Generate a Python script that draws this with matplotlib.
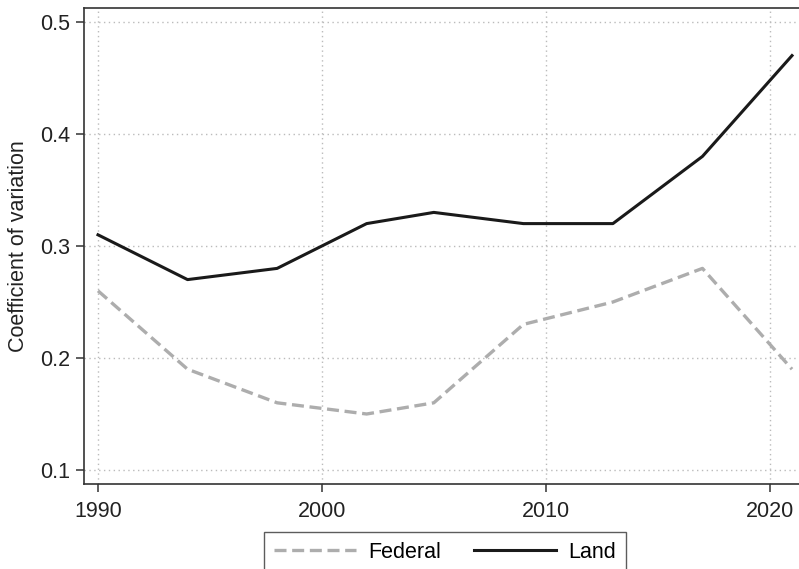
import numpy as np
import matplotlib.pyplot as plt

plt.rcParams['font.family'] = ['Liberation Sans', 'DejaVu Sans']

years = [1990, 1994, 1998, 2002, 2005, 2009, 2013, 2017, 2021]
federal = [0.26, 0.19, 0.16, 0.15, 0.16, 0.23, 0.25, 0.28, 0.19]
land = [0.31, 0.27, 0.28, 0.32, 0.33, 0.32, 0.32, 0.38, 0.47]
xticks = [1990, 2000, 2010, 2020]
yticks = [0.1, 0.2, 0.3, 0.4, 0.5]

W, H = 799, 569
fig = plt.figure(figsize=(W / 100, H / 100), dpi=100)
# plot region runs a little past the right edge of the canvas
ax = fig.add_axes([84 / W, (H - 484) / H, (806 - 84) / W, (484 - 8) / H])

ax.plot(years, federal, color='#adadad', lw=2.4, dashes=(3.6, 1.7), label='Federal')
ax.plot(years, land, color='#1a1a1a', lw=2.2, label='Land')

ax.set_xlim(1989.375, 2021.625)
ax.set_ylim(0.0875, 0.5125)
ax.set_xticks(xticks)
ax.set_yticks(yticks)
ax.set_yticklabels(['%.1f' % v for v in yticks])
ax.grid(True, color='#bbbbbb', ls=(0, (1, 2.5)), lw=1.0)
ax.set_axisbelow(True)

for s in ax.spines.values():
    s.set_color('#333333')
    s.set_linewidth(1.2)
ax.tick_params(axis='both', length=6, width=1.1, color='#333333',
               labelsize=15.5, labelcolor='#222222')
ax.tick_params(axis='x', pad=6)
ax.tick_params(axis='y', pad=4)
ax.set_ylabel('Coefficient of variation', fontsize=15.5, color='#222222', labelpad=8)

leg = ax.legend(loc='upper center', bbox_to_anchor=(0.5, (484 - 532) / 476),
                ncol=2, fontsize=15.5, frameon=True, fancybox=False,
                handlelength=3.8, handletextpad=0.6, columnspacing=1.5,
                borderpad=0.45, borderaxespad=0)
leg.get_frame().set_edgecolor('#333333')
leg.get_frame().set_linewidth(1.0)

fig.savefig('out.png', dpi=100)
